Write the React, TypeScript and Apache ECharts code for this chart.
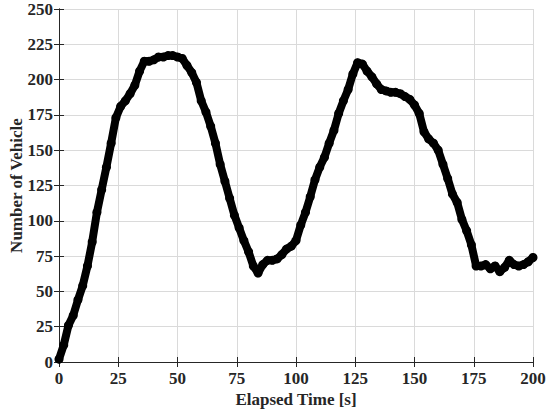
import React, { useEffect, useRef } from "react";
import * as echarts from "echarts";

const elapsedTime = [
  0, 2, 4, 6, 8, 10, 12, 14, 16, 18, 20, 22, 24, 26, 28, 30, 32, 34, 36, 38,
  40, 42, 44, 46, 48, 50, 52, 54, 56, 58, 60, 62, 64, 66, 68, 70, 72, 74, 76, 78,
  80, 82, 84, 86, 88, 90, 92, 94, 96, 98, 100, 102, 104, 106, 108, 110, 112, 114, 116, 118,
  120, 122, 124, 126, 128, 130, 132, 134, 136, 138, 140, 142, 144, 146, 148, 150, 152, 154, 156, 158,
  160, 162, 164, 166, 168, 170, 172, 174, 176, 178, 180, 182, 184, 186, 188, 190, 192, 194, 196, 198, 200,
];

const vehicles = [
  2, 12, 26, 33, 44, 54, 68, 85, 106, 122, 138, 155, 173, 181, 185, 190, 196, 206, 213, 213,
  214, 216, 216, 217, 217, 216, 215, 210, 205, 198, 185, 177, 167, 155, 140, 128, 116, 104, 95, 86,
  78, 68, 63, 69, 72, 72, 73, 76, 80, 82, 86, 97, 106, 117, 129, 138, 145, 155, 164, 176,
  185, 193, 204, 212, 211, 206, 202, 197, 193, 192, 191, 191, 190, 188, 186, 182, 176, 163, 158, 155,
  150, 140, 130, 119, 113, 101, 93, 83, 68, 68, 69, 66, 68, 64, 67, 72, 69, 68, 69, 71, 74,
];

const xTicks = { min: 0, max: 200, interval: 25 };
const yTicks = { min: 0, max: 250, interval: 25 };

const FONT = "Liberation Serif";
const TXT = "#262626";

export default function App() {
  const ref = useRef<HTMLDivElement>(null);
  useEffect(() => {
    if (!ref.current) return;
    const chart = echarts.init(ref.current, null, { renderer: "svg" });
    const data = elapsedTime.map((t, i) => [t, vehicles[i]]);
    const boxAxis = {
      axisLine: { show: true, lineStyle: { color: TXT, width: 1 } },
      axisTick: { show: true, inside: true, length: 5, lineStyle: { color: TXT } },
      axisLabel: { show: false },
      splitLine: { show: false },
    };
    chart.setOption({
      animation: false,
      backgroundColor: "#ffffff",
      textStyle: { fontFamily: FONT },
      grid: { left: 59, right: 14, top: 9, bottom: 52, containLabel: false, outerBoundsMode: "none" },
      xAxis: [
        {
          type: "value",
          ...xTicks,
          name: "Elapsed Time [s]",
          nameLocation: "middle",
          nameGap: 29,
          nameMoveOverlap: false,
          nameTextStyle: { fontFamily: FONT, fontWeight: "bold", fontSize: 17, color: TXT },
          axisLine: { show: true, lineStyle: { color: TXT, width: 1 } },
          axisTick: { show: true, inside: true, length: 5, lineStyle: { color: TXT } },
          axisLabel: { fontFamily: FONT, fontWeight: "bold", fontSize: 17, color: TXT, margin: 8 },
          splitLine: { show: true, lineStyle: { color: "#dadada", width: 1 } },
        },
        { type: "value", ...xTicks, position: "top", ...boxAxis },
      ],
      yAxis: [
        {
          type: "value",
          ...yTicks,
          name: "Number of Vehicle",
          nameLocation: "middle",
          nameGap: 34,
          nameMoveOverlap: false,
          nameTextStyle: { fontFamily: FONT, fontWeight: "bold", fontSize: 17, color: TXT },
          axisLine: { show: true, lineStyle: { color: TXT, width: 1 } },
          axisTick: { show: true, inside: true, length: 5, lineStyle: { color: TXT } },
          axisLabel: { fontFamily: FONT, fontWeight: "bold", fontSize: 17, color: TXT, margin: 6 },
          splitLine: { show: true, lineStyle: { color: "#dadada", width: 1 } },
        },
        { type: "value", ...yTicks, position: "right", ...boxAxis },
      ],
      series: [
        {
          type: "line",
          data,
          xAxisIndex: 0,
          yAxisIndex: 0,
          showSymbol: true,
          symbol: "circle",
          symbolSize: 9,
          itemStyle: { color: "#000000" },
          lineStyle: { color: "#000000", width: 8, cap: "round", join: "round" },
        },
      ],
    });
    return () => chart.dispose();
  }, []);
  return <div ref={ref} style={{ width: 547, height: 414, position: "absolute", left: 0, top: 0 }} />;
}
